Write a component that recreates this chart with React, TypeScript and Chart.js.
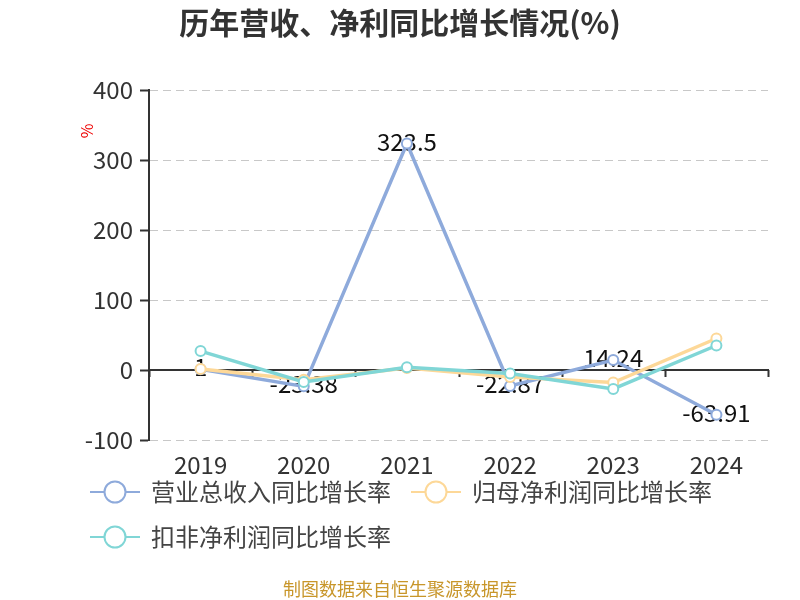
import { useEffect, useRef } from "react"
import { Chart, registerables } from "chart.js"

Chart.register(...registerables)

const FONT = '"Noto Sans CJK SC", "Microsoft YaHei", sans-serif'

const years = ["2019", "2020", "2021", "2022", "2023", "2024"]
const revenueGrowth = [1, -23.38, 323.5, -22.87, 14.24, -63.91]
const parentProfitGrowth = [1.5, -14, 3, -10, -18, 45]
const deductedProfitGrowth = [27, -17, 4, -5, -27, 35]

const seriesNames = ["营业总收入同比增长率", "归母净利润同比增长率", "扣非净利润同比增长率"]
const seriesColors = ["#8eaadb", "#fdd898", "#80d6d6"]

const titleText = "历年营收、净利同比增长情况(%)"
const sourceText = "制图数据来自恒生聚源数据库"

// 标题、图例、零线、数据标签等自绘部分
const decorPlugin = {
  id: "decor",
  beforeDatasetsDraw(chart: Chart) {
    const { ctx, chartArea, scales } = chart
    const x = scales.x
    const y = scales.y
    const zeroY = y.getPixelForValue(0)

    ctx.save()
    // 零值轴线
    ctx.strokeStyle = "#333"
    ctx.lineWidth = 2
    ctx.beginPath()
    ctx.moveTo(chartArea.left, zeroY)
    ctx.lineTo(chartArea.right + 1, zeroY)
    ctx.stroke()
    const n = years.length
    const step = (chartArea.right - chartArea.left) / n
    ctx.beginPath()
    for (let i = 0; i <= n; i++) {
      const px = Math.round(chartArea.left + i * step) + 0.5
      ctx.moveTo(px, zeroY)
      ctx.lineTo(px, zeroY + 7)
    }
    ctx.stroke()

    // 营业总收入的数据标签（画在线条下面）
    ctx.fillStyle = "#111"
    ctx.font = `24px ${FONT}`
    ctx.textAlign = "center"
    ctx.textBaseline = "middle"
    revenueGrowth.forEach((v, i) => {
      ctx.fillText(String(v), x.getPixelForValue(i), y.getPixelForValue(v) - 2)
    })
    ctx.restore()
  },
  afterDraw(chart: Chart) {
    const { ctx } = chart
    ctx.save()
    // 标题
    ctx.fillStyle = "#333"
    ctx.font = `bold 30px ${FONT}`
    ctx.textAlign = "center"
    ctx.textBaseline = "middle"
    ctx.fillText(titleText, 400, 23)

    // 单位
    ctx.save()
    ctx.translate(87, 131)
    ctx.rotate(-Math.PI / 2)
    ctx.fillStyle = "#e00"
    ctx.font = `16px ${FONT}`
    ctx.fillText("%", 0, 0)
    ctx.restore()

    // 图例
    const legendPos = [
      [90, 492],
      [411, 492],
      [90, 537],
    ]
    seriesNames.forEach((name, i) => {
      const [lx, ly] = legendPos[i]
      ctx.strokeStyle = seriesColors[i]
      ctx.lineWidth = 2
      ctx.beginPath()
      ctx.moveTo(lx, ly)
      ctx.lineTo(lx + 50, ly)
      ctx.stroke()
      ctx.beginPath()
      ctx.arc(lx + 25, ly, 10.5, 0, Math.PI * 2)
      ctx.fillStyle = "#fff"
      ctx.fill()
      ctx.stroke()
      ctx.fillStyle = "#444"
      ctx.font = `24px ${FONT}`
      ctx.textAlign = "left"
      ctx.fillText(name, lx + 61, ly)
    })

    // 数据来源
    ctx.fillStyle = "#c8962a"
    ctx.font = `18px ${FONT}`
    ctx.textAlign = "center"
    ctx.fillText(sourceText, 400, 589)
    ctx.restore()
  },
}

export default function App() {
  const chartRef = useRef<HTMLCanvasElement>(null)
  const chartInstance = useRef<Chart | null>(null)

  useEffect(() => {
    document.body.style.margin = "0"
    if (!chartRef.current) return
    if (chartInstance.current) chartInstance.current.destroy()

    const datasets = [revenueGrowth, parentProfitGrowth, deductedProfitGrowth].map((data, i) => ({
      label: seriesNames[i],
      data,
      borderColor: seriesColors[i],
      backgroundColor: seriesColors[i],
      borderWidth: 3.5,
      tension: 0,
      pointRadius: 5,
      pointBorderWidth: 2,
      pointBackgroundColor: "#fff",
      pointBorderColor: seriesColors[i],
      order: 3 - i,
    }))

    chartInstance.current = new Chart(chartRef.current, {
      type: "line",
      data: { labels: years, datasets },
      options: {
        animation: false,
        responsive: false,
        layout: { padding: { top: 90, right: 32, left: 0, bottom: 0 } },
        plugins: {
          legend: { display: false },
          tooltip: { enabled: false },
        },
        scales: {
          x: {
            offset: true,
            grid: { display: false, drawTicks: false },
            border: { display: false },
            ticks: {
              color: "#333",
              font: { size: 24, family: FONT },
              padding: 10,
              maxRotation: 0,
              autoSkip: false,
            },
            afterFit: (s: any) => {
              s.height = 160
            },
          },
          y: {
            min: -100,
            max: 400,
            ticks: {
              stepSize: 100,
              color: "#333",
              font: { size: 24, family: FONT },
              padding: 7,
            },
            grid: {
              color: "#c8c8c8",
              lineWidth: 1,
              tickColor: "#333",
              tickLength: 9,
              tickWidth: 2,
              tickBorderDash: [],
            },
            border: { display: true, color: "#333", width: 2, dash: [8, 5] },
            afterFit: (s: any) => {
              s.width = 149
            },
          },
        },
      },
      plugins: [decorPlugin],
    })

    return () => {
      if (chartInstance.current) {
        chartInstance.current.destroy()
        chartInstance.current = null
      }
    }
  }, [])

  return <canvas ref={chartRef} width={800} height={600}></canvas>
}
